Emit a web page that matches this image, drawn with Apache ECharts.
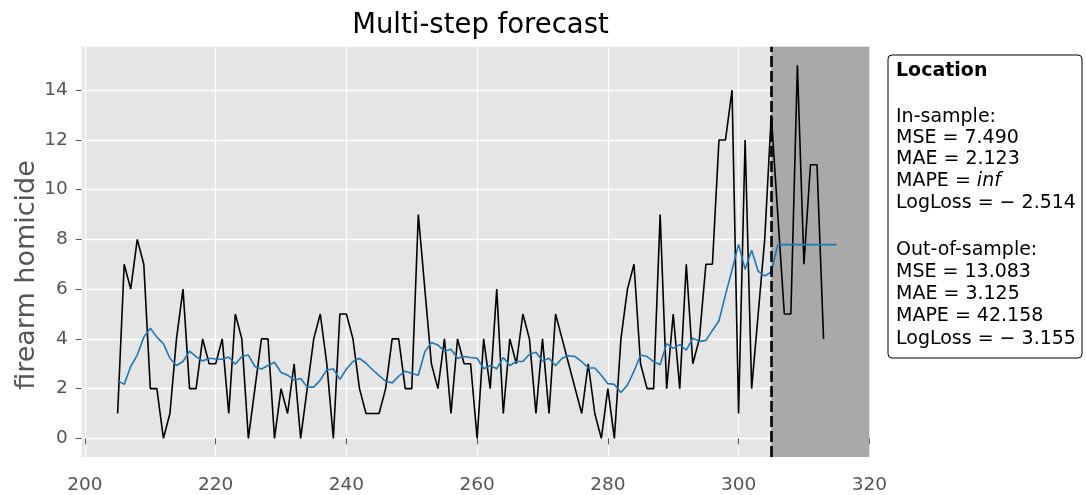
<!DOCTYPE html>
<html>
<head>
<meta charset="utf-8">
<title>Multi-step forecast</title>
<script src="https://cdn.jsdelivr.net/npm/echarts@6/dist/echarts.min.js"></script>
<style>
    html,body{margin:0;padding:0;background:#fff;}
    #main{width:1086px;height:495px;}
</style>
</head>
<body>
<div id="main"></div>
<script>
    // observed counts, one per step starting at 205
    let observedStart = 205;
    let observed = [1,7,6,8,7,2,2,0,1,4,6,2,2,4,3,3,4,1,5,4,0,2,4,4,0,2,1,3,0,2,
        4,5,3,0,5,5,4,2,1,1,1,2,4,4,2,2,9,6,3,2,4,1,4,3,3,0,4,2,6,1,
        4,3,5,4,1,4,1,5,4,3,2,1,3,1,0,2,0,4,6,7,3,2,2,9,2,5,2,7,3,4,
        7,7,12,12,14,1,12,2,5,8,13,9,5,5,15,7,11,11,4];

    // fitted + forecast mean, starting at 205
    let forecastStart = 205;
    let forecast = [2.32,2.17,2.89,3.35,4.07,4.43,4.07,3.81,3.22,2.93,3.09,3.51,3.29,3.11,3.22,3.19,3.18,3.27,2.98,3.29,3.35,2.89,
        2.79,2.93,3.06,2.65,2.54,2.34,2.41,2.06,2.06,2.34,2.76,2.79,2.37,2.79,3.09,3.22,3.02,2.76,2.52,2.30,2.23,2.50,2.70,2.61,2.54,3.48,
        3.85,3.75,3.51,3.58,3.22,3.29,3.25,3.22,2.80,2.93,2.80,3.25,2.93,3.09,3.09,3.38,3.46,3.11,3.22,2.92,3.22,3.32,3.29,3.09,2.83,2.83,
        2.54,2.20,2.17,1.84,2.14,2.70,3.35,3.29,3.09,2.96,3.81,3.62,3.77,3.55,4.03,3.90,3.94,4.34,4.73,5.78,6.77,7.80,6.80,7.56,6.72,6.53,6.69,
        7.79,7.79,7.79,7.79,7.79,7.79,7.79,7.79,7.79,7.79];

    let splitPoint = 305;      // end of in-sample
    let regionEnd = 320;
    let xTicks = [200,220,240,260,280,300,320];
    let yTicks = [0,2,4,6,8,10,12,14];

    let inSample = ['In-sample:','MSE = 7.490','MAE = 2.123','MAPE = ','LogLoss = \u2212 2.514'];
    let outSample = ['Out-of-sample:','MSE = 13.083','MAE = 3.125','MAPE = 42.158','LogLoss = \u2212 3.155'];

    function init(){
        let chart = echarts.init(document.getElementById('main'));
        let font = 'DejaVu Sans';
        let boxSize = 19;

        let obsData = observed.map((v,i)=>[observedStart+i,v]);
        let fcData = forecast.map((v,i)=>[forecastStart+i,v]);

        /*
        *   metrics box on the right
        * */
        let boxTexts = [];
        boxTexts.push({type:'text',x:896,y:71,style:{text:'Location',font:'bold '+boxSize+'px "'+font+'"',fill:'#000',verticalAlign:'middle'}});
        let ys1 = [117,138,159,181,203];
        inSample.forEach((t,n)=>{
            if(n==3){
                boxTexts.push({type:'text',x:896,y:ys1[n],style:{
                    text:'{n|MAPE = }{i|inf}',verticalAlign:'middle',
                    rich:{n:{fontFamily:font,fontSize:boxSize,fill:'#000'},i:{fontFamily:font,fontSize:boxSize,fontStyle:'italic',fill:'#000'}}
                }});
            }else{
                boxTexts.push({type:'text',x:896,y:ys1[n],style:{text:t,font:boxSize+'px "'+font+'"',fill:'#000',verticalAlign:'middle'}});
            }
        });
        let ys2 = [250,272,294,316,339];
        outSample.forEach((t,n)=>{
            boxTexts.push({type:'text',x:896,y:ys2[n],style:{text:t,font:boxSize+'px "'+font+'"',fill:'#000',verticalAlign:'middle'}});
        });

        let option = {
            animation:false,
            backgroundColor:'#fff',
            textStyle:{fontFamily:font},
            title:{
                text:'Multi-step forecast',
                left:475.5,
                textAlign:'center',
                top:7,
                textStyle:{fontFamily:font,fontSize:27.5,fontWeight:'normal',color:'#000'}
            },
            grid:{
                left:81.7,
                right:216.7,
                top:46.7,
                bottom:32.3,
                show:true,
                backgroundColor:'#e5e5e5',
                borderWidth:0
            },
            xAxis:{
                type:'value',
                min:199.5,
                max:regionEnd,
                axisLine:{show:false},
                axisTick:{show:true,length:6,lineStyle:{color:'#555'},customValues:xTicks},
                axisLabel:{color:'#555',fontSize:18.5,fontFamily:font,margin:19,customValues:xTicks,showMinLabel:true,showMaxLabel:true},
                splitLine:{show:true,lineStyle:{color:'#fff',width:1.3}}
            },
            yAxis:{
                type:'value',
                min:-0.75,
                max:15.75,
                axisLine:{show:false},
                axisTick:{show:true,length:6,lineStyle:{color:'#555'},customValues:yTicks},
                axisLabel:{color:'#555',fontSize:18.5,fontFamily:font,margin:14,customValues:yTicks},
                splitLine:{show:true,lineStyle:{color:'#fff',width:1.3}}
            },
            series:[
                {
                    name:'observed',
                    type:'line',
                    data:obsData,
                    showSymbol:false,
                    symbol:'none',
                    lineStyle:{color:'#000',width:1.6},
                    z:3,
                    markArea:{
                        silent:true,
                        itemStyle:{color:'#a9a9a9'},
                        data:[[{xAxis:splitPoint},{xAxis:regionEnd}]]
                    }
                },
                {
                    name:'forecast',
                    type:'line',
                    data:fcData,
                    showSymbol:false,
                    symbol:'none',
                    lineStyle:{color:'#1f77b4',width:1.6},
                    z:4,
                    markLine:{
                        silent:true,
                        symbol:'none',
                        label:{show:false},
                        lineStyle:{color:'#000',width:2.6,type:[11,4]},
                        data:[{xAxis:splitPoint}]
                    }
                }
            ],
            graphic:[
                {
                    // y axis title
                    type:'text',
                    x:27,
                    y:275,
                    rotation:Math.PI/2,
                    style:{text:'firearm homicide',font:'27px "'+font+'"',fill:'#555',align:'center',verticalAlign:'middle'}
                },
                {
                    type:'group',
                    children:[{
                        type:'rect',
                        shape:{x:888,y:55,width:194,height:303,r:4},
                        style:{fill:'#fff',stroke:'#000',lineWidth:1}
                    }].concat(boxTexts)
                }
            ]
        };
        chart.setOption(option);
    }

    window.onload = ()=>{
        init();
    }
</script>
</body>
</html>
